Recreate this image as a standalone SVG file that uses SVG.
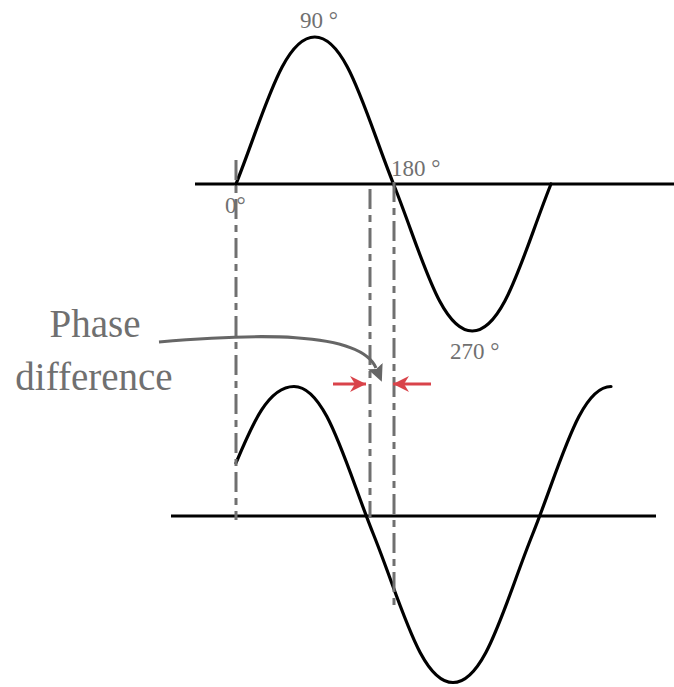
<svg xmlns="http://www.w3.org/2000/svg" width="674" height="687" viewBox="0 0 674 687">
<style>
.axis{stroke:#000;stroke-width:3;fill:none}
.wave{stroke:#000;stroke-width:3.2;fill:none;stroke-linecap:round}
.guide{stroke:#707070;stroke-width:3;fill:none;stroke-dasharray:20 6 7 6}
.lbl{font-family:"Liberation Serif","Times New Roman",serif;fill:#707070}
.red{stroke:#d9434a;stroke-width:3;fill:none}
.grey{stroke:#666;stroke-width:3.2;fill:none}
</style>
<defs>
<marker id="redHead" markerUnits="userSpaceOnUse" markerWidth="20" markerHeight="18" refX="16" refY="8" orient="auto">
<path d="M0,0 L16,8 L0,16 L5,8 Z" fill="#d9434a"/>
</marker>
<marker id="greyHead" markerUnits="userSpaceOnUse" markerWidth="20" markerHeight="20" refX="2" refY="8" orient="auto">
<path d="M0,0 L17,8 L0,16 L3,8 Z" fill="#666"/>
</marker>
</defs>
<g id="top-wave">
<line class="axis" x1="195" y1="184" x2="674" y2="184"/>
<path class="wave" d="M236,184 C264,114 282.75,37 314.75,37 C346.75,37 365.5,114 393.5,184 C421.5,254 440.25,331 472.25,331 C504.25,331 523,254 551,184"/>
</g>
<g id="bottom-wave">
<line class="axis" x1="171" y1="516" x2="656" y2="516"/>
<path class="wave" d="M236,463 C252,425 268,386.5 294,386.5 C326.3,386.5 345.2,464.1 373.5,534.5 C401.8,604.9 420.7,682.5 453,682.5 C485.3,682.5 504.2,604.9 532.5,534.5 C560.8,464.1 579.7,386.5 611,386.5"/>
</g>
<g id="connectors">
<line class="guide" x1="236" y1="160" x2="236" y2="520"/>
<line class="guide" x1="370" y1="189" x2="370" y2="518"/>
<line class="guide" x1="394" y1="182" x2="394" y2="608"/>
<line class="red" x1="333" y1="384" x2="366" y2="384" marker-end="url(#redHead)"/>
<line class="red" x1="431" y1="384" x2="393" y2="384" marker-end="url(#redHead)"/>
<path class="grey" d="M159,342 C250,334 360,330 376,368" marker-end="url(#greyHead)"/>
</g>
<g id="labels">
<text class="lbl" x="319" y="28" font-size="23" text-anchor="middle">90 °</text>
<text class="lbl" x="391" y="176" font-size="23">180 °</text>
<text class="lbl" x="225" y="213" font-size="23">0°</text>
<text class="lbl" x="450" y="359" font-size="23">270 °</text>
<text class="lbl" x="95" y="337" font-size="39" text-anchor="middle">Phase</text>
<text class="lbl" x="94" y="390" font-size="39" text-anchor="middle">difference</text>
</g>
</svg>
